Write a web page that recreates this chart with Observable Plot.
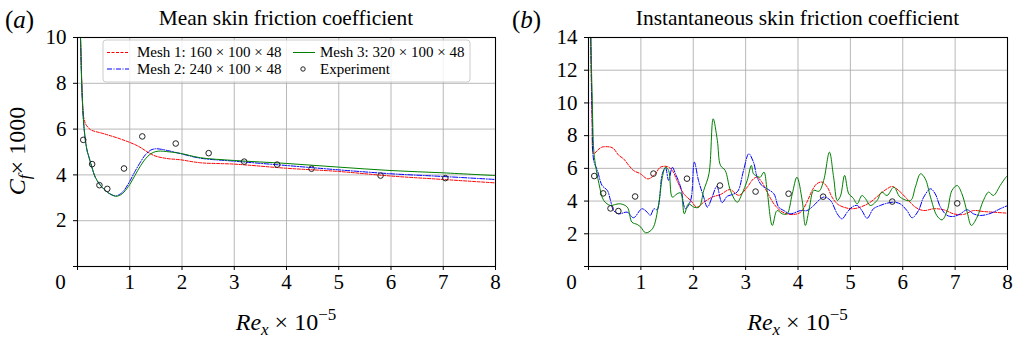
<!DOCTYPE html>
<html><head><meta charset="utf-8">
<script src="https://cdn.jsdelivr.net/npm/d3@7"></script>
<script src="https://cdn.jsdelivr.net/npm/@observablehq/plot@0.6"></script>
<style>
body{margin:0;background:#fff;}
#wrap{display:flex;width:1014px;height:340px;overflow:hidden;}
svg text, svg tspan{font-family:"Liberation Serif","Times New Roman",serif !important;}
</style></head><body><div id="wrap"></div>
<script>
// ---- tick values ----
const xTicks = [0,1,2,3,4,5,6,7,8];
const yTicksMean = [0,2,4,6,8,10];
const yTicksInst = [0,2,4,6,8,10,12,14];

// ---- experiment (same in both panels) ----
const expX = [0.11,0.28,0.42,0.57,0.89,1.24,1.88,2.51,3.19,3.82,4.48,5.80,7.04];
const expY = [5.53,4.47,3.55,3.39,4.28,5.68,5.37,4.95,4.58,4.45,4.27,3.97,3.86];

// ---- (a) mean Cf x1000, [Re_x*1e-5, Cf] ----
const meanMesh1 = [[0.04,11.5],[0.06,9.8],[0.09,7.6],[0.12,6.5],[0.16,6.2],[0.2,6.08],[0.25,5.97],[0.5,5.8],[0.82,5.57],[1.14,5.28],[1.46,4.85],[1.7,4.72],[1.97,4.66],[2.35,4.53],[3,4.47],[4,4.29],[5,4.15],[6,3.95],[7,3.8],[8,3.65]];
const meanMesh2 = [[0.04,11.5],[0.06,9.8],[0.09,7.4],[0.13,5.94],[0.18,5.1],[0.22,4.77],[0.28,4.3],[0.34,3.9],[0.42,3.6],[0.5,3.39],[0.6,3.2],[0.73,3.08],[0.82,3.17],[0.89,3.32],[1.0,3.72],[1.1,4.15],[1.21,4.58],[1.3,4.88],[1.4,5.08],[1.49,5.14],[1.6,5.12],[1.75,5.05],[1.97,4.93],[2.35,4.73],[3,4.6],[4,4.41],[5,4.22],[6,4.05],[7,3.93],[8,3.8]];
const meanMesh3 = [[0.04,11.5],[0.06,9.8],[0.09,7.4],[0.13,5.94],[0.18,5.1],[0.22,4.77],[0.28,4.3],[0.34,3.9],[0.42,3.6],[0.5,3.39],[0.6,3.2],[0.73,3.07],[0.82,3.12],[0.89,3.25],[1.0,3.58],[1.1,3.98],[1.21,4.41],[1.3,4.7],[1.4,4.92],[1.5,5.02],[1.59,5.04],[1.7,5.02],[1.97,4.94],[2.35,4.75],[3,4.63],[4,4.5],[5,4.34],[6,4.19],[7,4.09],[8,3.97]];

// ---- (b) instantaneous Cf x1000 ----
const instMesh1 = [[0.04,14.5],[0.07,8.73],[0.1,6.89],[0.17,7.1],[0.26,7.3],[0.42,7.3],[0.48,7.2],[0.58,6.79],[0.67,6.58],[0.77,6.18],[0.86,5.87],[0.99,5.67],[1.12,5.36],[1.18,5.4],[1.28,5.67],[1.37,6.07],[1.5,6.11],[1.6,5.87],[1.69,5.26],[1.82,4.44],[1.95,4.04],[2.07,3.63],[2.2,3.93],[2.36,4.24],[2.52,4.4],[2.7,4.7],[2.87,4.35],[3.03,4.85],[3.15,5.36],[3.22,5.46],[3.31,5.16],[3.41,4.55],[3.54,3.83],[3.66,3.42],[3.79,3.22],[3.92,3.18],[4.05,3.32],[4.17,3.93],[4.27,4.65],[4.36,5.06],[4.46,5.16],[4.56,4.85],[4.65,4.24],[4.75,3.83],[4.87,3.63],[5.03,3.53],[5.19,3.63],[5.38,3.93],[5.57,4.44],[5.7,4.75],[5.8,4.89],[5.92,4.65],[6.08,4.14],[6.24,3.63],[6.4,3.42],[6.59,3.53],[6.78,3.47],[6.97,3.22],[7.16,3.18],[7.35,3.42],[7.54,3.36],[7.73,3.32],[8.0,3.26]];
const instMesh2 = [[0.04,14.5],[0.07,9.34],[0.1,6.48],[0.17,5.87],[0.26,4.95],[0.36,4.65],[0.42,4.04],[0.48,3.42],[0.58,3.22],[0.74,3.32],[0.86,2.98],[1.02,3.53],[1.12,3.32],[1.18,3.12],[1.25,3.53],[1.31,3.47],[1.41,5.67],[1.47,6.04],[1.53,5.26],[1.6,6.07],[1.66,5.67],[1.76,4.85],[1.85,3.53],[1.95,4.04],[2.02,6.38],[2.1,5.26],[2.2,4.24],[2.27,3.63],[2.36,4.24],[2.45,4.9],[2.55,3.9],[2.65,4.3],[2.75,4.4],[2.85,4.6],[2.96,5.87],[3.06,6.89],[3.15,6.38],[3.22,5.46],[3.31,4.95],[3.41,4.75],[3.54,4.44],[3.63,3.63],[3.73,3.42],[3.85,3.22],[4.05,3.42],[4.17,3.42],[4.3,3.73],[4.43,4.14],[4.5,4.25],[4.62,4.04],[4.75,3.22],[4.84,2.91],[4.94,3.32],[5.03,3.63],[5.13,3.73],[5.22,3.42],[5.32,2.95],[5.44,3.53],[5.57,3.73],[5.7,3.87],[5.83,3.93],[5.95,3.83],[6.08,3.42],[6.18,2.98],[6.3,3.42],[6.4,4.24],[6.53,4.75],[6.62,4.44],[6.72,3.63],[6.85,3.12],[6.97,3.06],[7.1,3.22],[7.23,3.47],[7.35,3.22],[7.48,3.12],[7.61,3.18],[7.73,3.32],[7.86,3.53],[8.0,3.72]];
const instMesh3 = [[0.04,14.5],[0.07,10.36],[0.1,7.1],[0.13,6.28],[0.2,5.06],[0.29,4.04],[0.42,3.73],[0.52,3.8],[0.61,3.83],[0.74,3.63],[0.83,2.71],[0.93,2.57],[1.0,2.4],[1.09,2.06],[1.22,2.3],[1.34,3.83],[1.41,5.46],[1.47,6.07],[1.53,5.87],[1.6,4.24],[1.69,4.44],[1.76,4.5],[1.83,3.22],[1.91,3.83],[2.01,3.63],[2.11,3.63],[2.2,4.65],[2.3,5.67],[2.38,9.03],[2.46,7.71],[2.52,6.18],[2.61,5.87],[2.71,4.65],[2.84,3.93],[2.93,4.44],[3.03,5.26],[3.11,6.18],[3.15,5.67],[3.23,5.5],[3.28,5.46],[3.35,5.77],[3.41,4.65],[3.51,2.51],[3.6,3.42],[3.7,3.22],[3.79,3.22],[3.89,4.44],[3.98,5.46],[4.08,4.04],[4.14,2.51],[4.22,3.63],[4.3,4.65],[4.4,4.6],[4.49,5.26],[4.6,6.99],[4.68,5.46],[4.75,4.04],[4.81,4.3],[4.89,5.57],[4.97,4.44],[5.05,4.2],[5.13,3.83],[5.22,4.34],[5.29,4.14],[5.38,3.73],[5.51,4.04],[5.6,4.55],[5.7,4.34],[5.83,4.85],[5.95,4.24],[6.15,4.04],[6.24,4.85],[6.34,5.67],[6.43,5.36],[6.53,4.24],[6.65,3.12],[6.75,2.85],[6.85,3.42],[6.94,4.65],[7.04,4.95],[7.13,4.44],[7.23,3.32],[7.31,2.51],[7.42,3.02],[7.54,4.04],[7.64,4.55],[7.73,4.34],[7.86,4.95],[7.97,5.46],[8.0,5.55]];

// ---- styles ----
const series = [
  {name:"Mesh 1: 160 × 100 × 48", color:"#ff0000", dash:"3,1.5"},
  {name:"Mesh 2: 240 × 100 × 48", color:"#0000ff", dash:"5,1.5,1,1.5"},
  {name:"Mesh 3: 320 × 100 × 48", color:"#008000", dash:null}
];
const exp = expX.map((x,i)=>({x, y:expY[i]}));
const TICK_FS = 21;
const FF = "Liberation Serif";

function panel({width, mL, mR, yMax, yTicks, data}) {
  const lineMarks = data.map((d,i)=>Plot.line(d, {x:p=>p[0], y:p=>p[1], stroke:series[i].color,
    strokeWidth:1, strokeDasharray:series[i].dash, curve:"catmull-rom", clip:true}));
  return Plot.plot({
    width, height:340, marginLeft:mL, marginRight:mR, marginTop:37, marginBottom:74,
    style:{fontFamily:FF, fontSize:TICK_FS+"px", color:"black", background:"white"},
    x:{domain:[0,8]}, y:{domain:[0,yMax]},
    marks:[
      Plot.gridX(xTicks.slice(1,-1), {stroke:"#b0b0b0", strokeOpacity:1, strokeWidth:0.9}),
      Plot.gridY(yTicks.slice(1,-1), {stroke:"#b0b0b0", strokeOpacity:1, strokeWidth:0.9}),
      ...lineMarks,
      Plot.dot(exp, {x:"x", y:"y", r:2.8, stroke:"#222", fill:"none", strokeWidth:1}),
      Plot.frame({stroke:"black", strokeWidth:1.1}),
      Plot.axisX(xTicks, {tickSize:4, tickPadding:4, fontSize:TICK_FS, fontFamily:FF, fontVariant:"normal", tickFormat:d=>d===0?"":String(d), label:null}),
      Plot.axisX([0], {tickSize:0, tickPadding:8, dx:-17, fontSize:TICK_FS, fontFamily:FF, fontVariant:"normal", tickFormat:d=>String(d), label:null}),
      Plot.axisY(yTicks, {tickSize:4, tickPadding:7, fontSize:TICK_FS, fontFamily:FF, fontVariant:"normal", tickFormat:d=>d===0?"":String(d), label:null})
    ]
  });
}

const wrap = document.getElementById("wrap");
const svgA = panel({width:507, mL:77, mR:12, yMax:10, yTicks:yTicksMean, data:[meanMesh1, meanMesh2, meanMesh3]});
const svgB = panel({width:507, mL:81, mR:7, yMax:14, yTicks:yTicksInst, data:[instMesh1, instMesh2, instMesh3]});
wrap.appendChild(svgA); wrap.appendChild(svgB);

function decorate(svg, letter, title, cx, withY) {
  const s = d3.select(svg);
  const tl = s.append("text").attr("x", 5).attr("y", 28).attr("font-size", 25).attr("text-anchor","start");
  tl.append("tspan").text("(");
  tl.append("tspan").attr("font-style","italic").text(letter);
  tl.append("tspan").text(")");
  s.append("text").attr("x", cx).attr("y", 25).attr("text-anchor","middle").attr("font-size", 21.4).text(title);
  const xl = s.append("text").attr("x", cx).attr("y", 330).attr("text-anchor","middle").attr("font-size", 24);
  xl.append("tspan").attr("font-style","italic").text("Re");
  xl.append("tspan").attr("font-style","italic").attr("font-size",17).attr("dy",5).text("x");
  xl.append("tspan").attr("dy",-5).text(" × 10");
  xl.append("tspan").attr("font-size",17).attr("dy",-10).text("−5");
  if (withY) {
    const yl = s.append("text").attr("transform","translate(25,151) rotate(-90)").attr("text-anchor","middle").attr("font-size", 24);
    yl.append("tspan").attr("font-style","italic").text("C");
    yl.append("tspan").attr("font-style","italic").attr("font-size",17).attr("dy",5).text("f");
    yl.append("tspan").attr("dy",-5).text("× 1000");
  }
  s.selectAll("text").style("font-family", '"Liberation Serif", serif');
}
decorate(svgA, "a", "Mean skin friction coefficient", 286, true);
decorate(svgB, "b", "Instantaneous skin friction coefficient", 81 + (507-81-7)/2, false);

// legend in panel (a)
(function(){
  const s = d3.select(svgA).append("g").attr("font-size", 15).attr("text-anchor","start");
  s.append("rect").attr("x",103).attr("y",40).attr("width",367).attr("height",42).attr("rx",3)
    .attr("fill","white").attr("fill-opacity",0.8).attr("stroke","#cccccc").attr("stroke-width",1);
  const items = [
    {s:series[0], lx:107, tx:137, y:52.5},
    {s:series[1], lx:107, tx:137, y:69},
    {s:series[2], lx:293, tx:320, y:52.5}
  ];
  items.forEach(it=>{
    s.append("line").attr("x1",it.lx).attr("x2",it.lx+22).attr("y1",it.y).attr("y2",it.y)
      .attr("stroke",it.s.color).attr("stroke-width",1).attr("stroke-dasharray",it.s.dash);
    s.append("text").attr("x",it.tx).attr("y",it.y+4.5).attr("text-anchor","start").text(it.s.name);
  });
  s.append("circle").attr("cx",303).attr("cy",69).attr("r",2.2).attr("fill","none").attr("stroke","#222");
  s.append("text").attr("x",320).attr("y",73.5).attr("text-anchor","start").text("Experiment");
  s.selectAll("text").style("font-family", '"Liberation Serif", serif');
})();
</script>
</body></html>
